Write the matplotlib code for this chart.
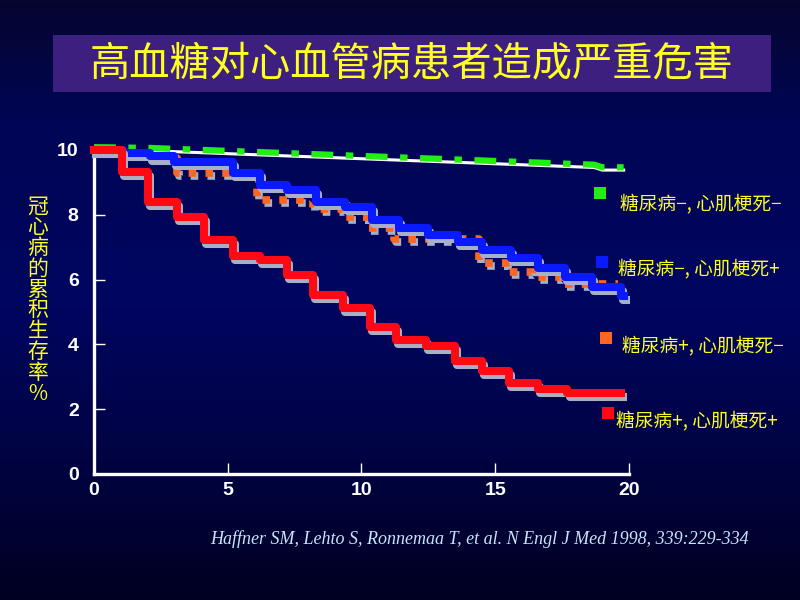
import numpy as np
import matplotlib
matplotlib.use("Agg")
import matplotlib.pyplot as plt
import matplotlib.patheffects as pe
from matplotlib.patches import Rectangle
from matplotlib.transforms import offset_copy

# survival curves (years, cumulative survival x10 %)
green_t = [0, 2.0, 18.7, 19.0, 19.8]
green_v = [10, 9.98, 9.46, 9.38, 9.38]

blue_t = [0, 1.1, 2.1, 3.0, 5.2, 6.2, 7.2, 8.3, 9.4, 10.4, 11.4, 12.5, 13.6,
          14.5, 15.6, 16.6, 17.6, 18.6, 19.7, 19.8]
blue_v = [10, 9.9, 9.8, 9.63, 9.29, 8.92, 8.77, 8.4, 8.24, 7.84, 7.6, 7.38, 7.16,
          6.91, 6.67, 6.36, 6.08, 5.77, 5.5, 5.5]

orange_t = [0, 1.1, 2.1, 3.1, 6.1, 8.2, 9.3, 10.2, 11.2, 14.4, 15.4, 16.4, 17.5, 19.6]
orange_v = [10, 9.9, 9.75, 9.29, 8.46, 8.18, 7.93, 7.6, 7.25, 6.5, 6.23, 6.08, 5.85, 5.85]

red_t = [0, 1.05, 2.0, 3.1, 4.1, 5.2, 6.2, 7.2, 8.2, 9.3, 10.3, 11.3, 12.4, 13.5,
         14.5, 15.5, 16.6, 17.7, 19.7]
red_v = [10, 9.32, 8.4, 7.93, 7.22, 6.73, 6.6, 6.14, 5.52, 5.12, 4.54, 4.14, 3.95, 3.49,
         3.18, 2.81, 2.62, 2.5, 2.5]

legend_labels = ["糖尿病−, 心肌梗死−", "糖尿病−, 心肌梗死+",
                 "糖尿病+, 心肌梗死−", "糖尿病+, 心肌梗死+"]
legend_colors = ["#22ee11", "#0a1aff", "#ff6622", "#ff0a14"]

title = "高血糖对心血管病患者造成严重危害"
ylabel = "冠心病的累积生存率%"
citation = "Haffner SM, Lehto S, Ronnemaa T, et al. N Engl J Med 1998, 339:229-334"

CJK = ['Noto Sans CJK SC', 'DejaVu Sans']
YEL = "#ffff22"

fig = plt.figure(figsize=(8, 6), dpi=100)

# slide background: vertical navy gradient
bg = fig.add_axes([0, 0, 1, 1], zorder=-10)
stops = np.array([0.0, 0.2, 0.5, 0.8, 1.0])
cols = np.array([[0.02, 0.02, 0.18], [0.0, 0.02, 0.33], [0.0, 0.02, 0.38],
                 [0.0, 0.01, 0.24], [0.0, 0.0, 0.13]])
yy = np.linspace(0, 1, 300)
grad = np.stack([np.interp(yy, stops, cols[:, i]) for i in range(3)], axis=-1)
bg.imshow(grad[:, None, :], aspect='auto', extent=[0, 1, 0, 1], origin='upper')
bg.set_xlim(0, 1)
bg.set_ylim(0, 1)
bg.axis('off')

# title bar
fig.patches.append(Rectangle((53/800, 1-92/600), 718/800, 57/600,
                             transform=fig.transFigure, facecolor="#3d1f80",
                             edgecolor='none', zorder=1))
fig.text(412/800, 1-64/600, title, color=YEL, fontsize=29, family=CJK,
         fontweight='medium', ha='center', va='center', zorder=2)

ax = fig.add_axes([94/800, 1-474/600, 535/800, 324/600])
ax.set_facecolor('none')
ax.set_xlim(0, 20)
ax.set_ylim(0, 10)

shadow = [pe.SimpleLineShadow(offset=(1.5, -3), shadow_color="#a8b0c8", alpha=1.0),
          pe.Normal()]

# green: white line with dashed green slightly above
ax.plot(green_t, green_v, color='white', lw=2.2, clip_on=False, zorder=3)
up = offset_copy(ax.transData, fig=fig, x=0, y=2, units='points')
ax.plot(green_t, green_v, color=legend_colors[0], lw=4.5, dashes=(3.5, 2, 1.2, 2),
        transform=up, clip_on=False, zorder=4)

ax.step(orange_t, orange_v, where='post', color=legend_colors[2], lw=5.5,
        dashes=(1, 1.2), solid_capstyle='butt', clip_on=False, zorder=4,
        path_effects=[pe.SimpleLineShadow(offset=(1.5, -2), shadow_color="#a8b0c8",
                                          alpha=1.0), pe.Normal()])
ax.step(blue_t, blue_v, where='post', color=legend_colors[1], lw=5.8,
        clip_on=False, zorder=5, path_effects=shadow)
ax.step(red_t, red_v, where='post', color=legend_colors[3], lw=5.8,
        clip_on=False, zorder=6, path_effects=shadow)

for side in ['top', 'right']:
    ax.spines[side].set_visible(False)
for side in ['left', 'bottom']:
    ax.spines[side].set_color('white')
    ax.spines[side].set_linewidth(2.4)
ax.set_xticks([0, 5, 10, 15, 20])
ax.set_yticks([0, 2, 4, 6, 8, 10])
ax.tick_params(axis='both', direction='in', colors='white', length=8, width=1,
               labelsize=14)
ax.tick_params(axis='y', pad=11)
ax.tick_params(axis='x', pad=6)
for lab in ax.get_xticklabels() + ax.get_yticklabels():
    lab.set_family('Liberation Sans')
    lab.set_fontweight('bold')

# vertical y label
fig.text(38/800, 1-300/600, "\n".join(ylabel), color=YEL, fontsize=15,
         family=CJK, ha='center', va='center', linespacing=0.93)

# legend squares and texts
sq_pos = [(600, 193), (602, 262), (606, 338), (608, 413)]
txt_pos = [(620, 205), (618, 270), (622, 347), (616, 422)]
for (sx, sy), (tx, ty), lab, c in zip(sq_pos, txt_pos, legend_labels, legend_colors):
    fig.patches.append(Rectangle(((sx-6)/800, 1-(sy+6)/600), 12/800, 12/600,
                                 transform=fig.transFigure, facecolor=c,
                                 edgecolor='none', zorder=3))
    fig.text(tx/800, 1-ty/600, lab, color=YEL, fontsize=13.5, family=CJK,
             fontweight='medium', ha='left', va='center')

fig.text(479/800, 1-539/600, citation, color="#c8e4ff", fontsize=13,
         family='Liberation Serif', style='italic', ha='center', va='center')

fig.savefig("out.png", dpi=100)
